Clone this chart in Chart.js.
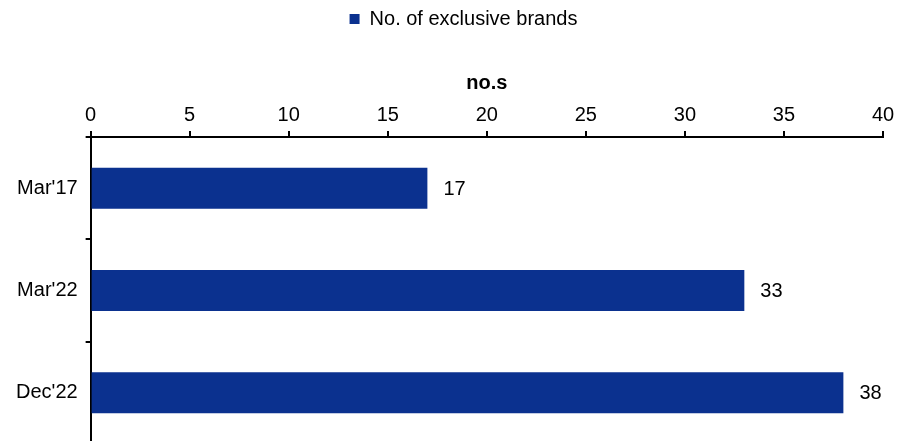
<!DOCTYPE html>
<html>
<head>
<meta charset="utf-8">
<script src="https://cdn.jsdelivr.net/npm/chart.js@4"></script>
<style>
  html, body { margin: 0; padding: 0; background: #fff; overflow: hidden; }
  #wrap { width: 911px; height: 464px; }
</style>
</head>
<body>
<div id="wrap"><canvas id="chart"></canvas></div>
<script>
const categories = ["Mar'17", "Mar'22", "Dec'22"];
const brandCounts = [17, 33, 38];
const seriesName = 'No. of exclusive brands';
const axisTitle = 'no.s';

const FONT = '"Liberation Sans", Arial, sans-serif';
const BLUE = '#0b318f';

// value labels at the bar ends
const barLabels = {
  id: 'barLabels',
  afterDatasetsDraw(chart) {
    const { ctx } = chart;
    const meta = chart.getDatasetMeta(0);
    ctx.save();
    ctx.font = '20px ' + FONT;
    ctx.fillStyle = '#000';
    ctx.textBaseline = 'middle';
    ctx.textAlign = 'left';
    meta.data.forEach((bar, i) => {
      ctx.fillText(String(brandCounts[i]), bar.x + 16, bar.y + 1);
    });
    ctx.restore();
  }
};

// nudge the legend a bit right, like the original
const legendShift = {
  id: 'legendShift',
  afterLayout(chart) {
    if (chart.legend) {
      chart.legend.left += 18;
      chart.legend.right += 18;
    }
  }
};

new Chart(document.getElementById('chart'), {
  type: 'bar',
  data: {
    labels: categories,
    datasets: [{
      label: seriesName,
      data: brandCounts,
      backgroundColor: BLUE,
      borderWidth: 0,
      barPercentage: 0.4,
      categoryPercentage: 1
    }]
  },
  options: {
    indexAxis: 'y',
    responsive: true,
    maintainAspectRatio: false,
    animation: false,
    layout: { padding: { top: 1, right: 28, left: 8, bottom: 0 } },
    plugins: {
      legend: {
        position: 'top',
        labels: {
          boxWidth: 10,
          boxHeight: 10,
          color: '#000',
          font: { family: FONT, size: 20 },
          padding: 8
        }
      },
      tooltip: { enabled: false }
    },
    scales: {
      x: {
        position: 'top',
        min: 0,
        max: 40,
        ticks: {
          stepSize: 5,
          color: '#000',
          font: { family: FONT, size: 20 },
          padding: 4
        },
        grid: {
          drawOnChartArea: false,
          color: '#000',
          lineWidth: 2,
          tickLength: 6
        },
        border: { color: '#000', width: 2 },
        title: {
          display: true,
          text: axisTitle,
          color: '#000',
          font: { family: FONT, size: 20, weight: 'bold' },
          padding: { top: 32, bottom: 4 }
        }
      },
      y: {
        offset: true,
        ticks: {
          color: '#000',
          font: { family: FONT, size: 20 },
          padding: 8
        },
        grid: {
          offset: true,
          drawOnChartArea: false,
          color: '#000',
          lineWidth: 2,
          tickLength: 5
        },
        border: { color: '#000', width: 2 }
      }
    }
  },
  plugins: [barLabels, legendShift]
});
</script>
</body>
</html>
